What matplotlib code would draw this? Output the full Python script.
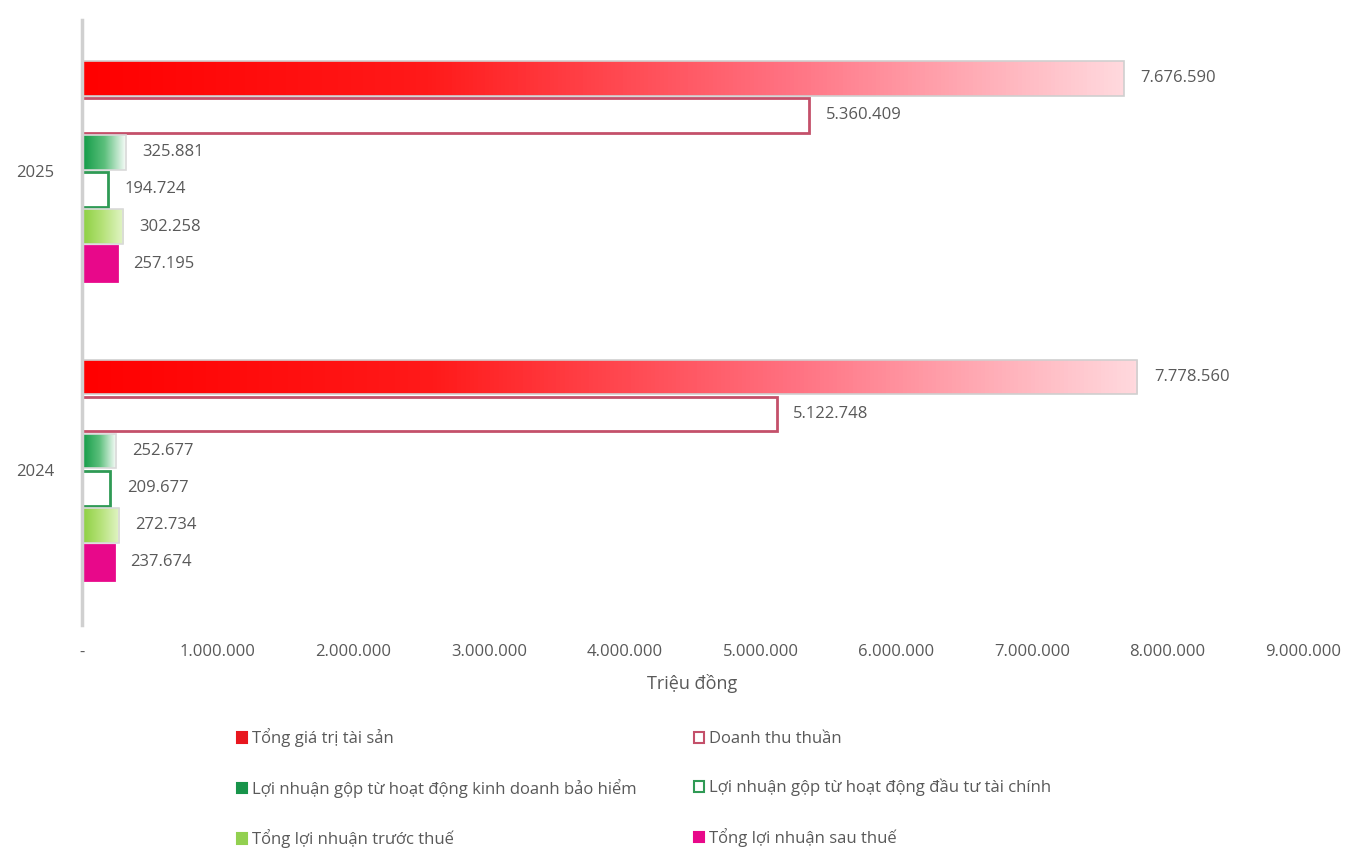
import numpy as np
import matplotlib.pyplot as plt
from matplotlib.colors import LinearSegmentedColormap
from matplotlib.patches import Patch
from matplotlib.ticker import FuncFormatter

plt.rcParams['font.family'] = ['Open Sans', 'DejaVu Sans']

years = ["2024", "2025"]
series = [
    "Tổng giá trị tài sản",
    "Doanh thu thuần",
    "Lợi nhuận gộp từ hoạt động kinh doanh bảo hiểm",
    "Lợi nhuận gộp từ hoạt động đầu tư tài chính",
    "Tổng lợi nhuận trước thuế",
    "Tổng lợi nhuận sau thuế",
]
values_2024 = [7778560, 5122748, 252677, 209677, 272734, 237674]
values_2025 = [7676590, 5360409, 325881, 194724, 302258, 257195]

TEXT = "#595959"

# style per series: (gradient colours or None, face, edge)
styles = [
    (["#ff0000", "#ff1a1a", "#ff6f7f", "#ffd9de"], None, "#cfcfcf"),
    (None, "white", "#c4506a"),
    (["#0f9a45", "#5cbf7c", "#ffffff"], None, "#d9d9d9"),
    (None, "white", "#2f9a55"),
    (["#8ccf3f", "#b6e27a", "#e3f5c8"], None, "#d9d9d9"),
    (None, "#e8088a", "#e8088a"),
]
legend_faces = ["#e8161e", "white", "#17944a", "white", "#92d050", "#e8088a"]
legend_edges = ["#e8161e", "#c4506a", "#17944a", "#2f9a55", "#92d050", "#e8088a"]


def fmt(v):
    return f"{v:,.0f}".replace(",", ".")


fig = plt.figure(figsize=(13.48, 8.52), dpi=100, facecolor="white")
ax = fig.add_axes([0.0608, 0.2664, 0.906, 0.71])

step = 0.124
h = 0.116
y_pos = np.arange(len(years))
data = np.array([values_2024, values_2025])
grad = np.linspace(0, 1, 256).reshape(1, -1)

for i, name in enumerate(series):
    offset = (2.5 - i) * step
    bars = ax.barh(y_pos + offset, data[:, i], height=h)
    colors, face, edge = styles[i]
    for bar, v in zip(bars, data[:, i]):
        x0, y0 = bar.get_x(), bar.get_y()
        w, bh = bar.get_width(), bar.get_height()
        if colors is None:
            bar.set_facecolor(face)
            bar.set_edgecolor(edge)
            bar.set_linewidth(2)
            bar.set_zorder(2)
        else:
            bar.set_facecolor("none")
            bar.set_edgecolor(edge)
            bar.set_linewidth(1.2)
            cmap = LinearSegmentedColormap.from_list("g%d" % i, colors)
            im = ax.imshow(grad, cmap=cmap, aspect="auto",
                           extent=[x0, x0 + w, y0, y0 + bh], zorder=1)
            im.set_clip_path(bar)
            bar.set_zorder(2)
        ax.text(x0 + w + 120000, y0 + bh / 2, fmt(v), va="center", ha="left",
                fontsize=12, color=TEXT)

ax.set_xlim(0, 9000000)
ax.set_ylim(-0.52, 1.505)
ax.set_yticks(y_pos)
ax.set_yticklabels(years, fontsize=12, color=TEXT)
ax.set_xticks(np.arange(0, 9000001, 1000000))
ax.xaxis.set_major_formatter(FuncFormatter(lambda v, p: "-" if v == 0 else fmt(v)))
ax.tick_params(axis="x", length=0, labelsize=12, labelcolor=TEXT, pad=14)
ax.tick_params(axis="y", length=0, pad=20)
ax.set_xlabel("Triệu đồng", fontsize=13, color=TEXT, labelpad=10)

for s in ["top", "right", "bottom"]:
    ax.spines[s].set_visible(False)
ax.spines["left"].set_color("#d0d0d0")
ax.spines["left"].set_linewidth(2.5)
ax.spines["left"].set_zorder(3)

handles = [Patch(facecolor=f, edgecolor=e, linewidth=1.5)
           for f, e in zip(legend_faces, legend_edges)]
order = [0, 2, 4, 1, 3, 5]
fig.legend([handles[k] for k in order], [series[k] for k in order],
           ncol=2, loc="upper left", bbox_to_anchor=(0.165, 0.163),
           bbox_transform=fig.transFigure, frameon=False, fontsize=12,
           labelcolor=TEXT, handlelength=0.6, handleheight=0.6,
           handletextpad=0.3, labelspacing=1.9, columnspacing=3.4)

fig.savefig("out.png", dpi=100, facecolor="white")
